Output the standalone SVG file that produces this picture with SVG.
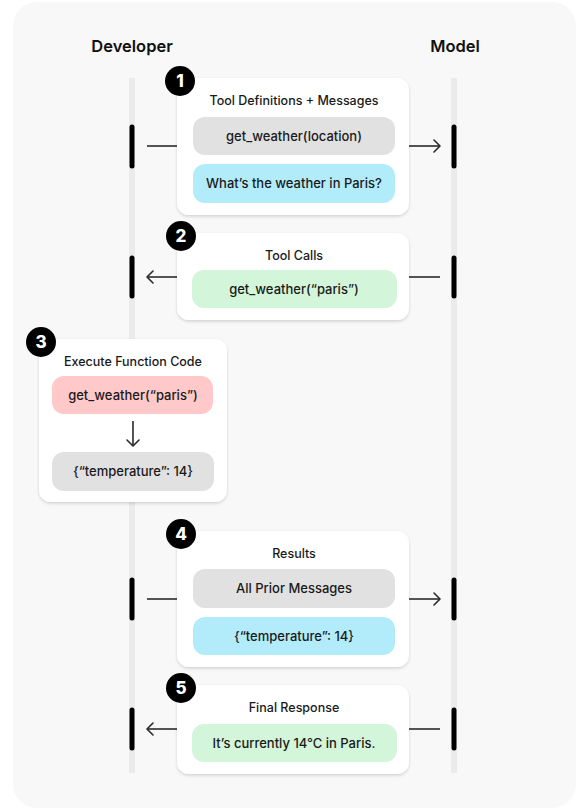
<svg xmlns="http://www.w3.org/2000/svg" width="584" height="810" viewBox="0 0 584 810">
  <defs>
    <filter id="sh" x="-10%" y="-10%" width="120%" height="130%">
      <feDropShadow dx="0" dy="1.5" stdDeviation="1.8" flood-color="#000" flood-opacity="0.16"/>
    </filter>
    <marker id="ah" markerWidth="12" markerHeight="14" refX="10" refY="7" orient="auto" markerUnits="userSpaceOnUse">
      <path d="M4,1 L10,7 L4,13" fill="none" stroke="#2a2a2a" stroke-width="1.6" stroke-linecap="round" stroke-linejoin="round"/>
    </marker>
    <style>
      .hdr { font-family: Inter, "Liberation Sans", sans-serif; font-size: 16.5px; font-weight: 600; fill: #111; text-anchor: middle; }
      .ttl { font-family: Inter, "Liberation Sans", sans-serif; font-size: 12.5px; font-weight: 500; fill: #1a1a1a; text-anchor: middle; }
      .pt { font-family: Inter, "Liberation Sans", sans-serif; font-size: 13px; font-weight: 500; fill: #1a1a1a; text-anchor: middle; }
      .card { fill: #ffffff; filter: url(#sh); }
      .gray { fill: #e1e1e1; }
      .blue { fill: #b2ecfb; }
      .green { fill: #d3f5d9; }
      .red { fill: #ffc9c9; }
      .life { fill: #ebebeb; }
      .bar { stroke: #000; stroke-width: 5; stroke-linecap: round; }
      .badge { fill: #000; }
      .bn { font-family: Inter, "Liberation Sans", sans-serif; font-size: 17px; font-weight: 800; fill: #fff; text-anchor: middle; }
      .conn { stroke: #2a2a2a; stroke-width: 1.6; fill: none; }
    </style>
  </defs>

  <rect x="0" y="0" width="584" height="810" fill="#ffffff"/>
  <rect x="13" y="2" width="563" height="806" rx="24" fill="#f8f8f8"/>

  <g id="lane-developer">
    <text class="hdr" x="132" y="52">Developer</text>
    <rect class="life" x="129" y="78" width="6" height="695"/>
  </g>
  <g id="lane-model">
    <text class="hdr" x="455" y="52">Model</text>
    <rect class="life" x="451" y="78" width="6" height="695"/>
  </g>

  <g id="activations">
    <line class="bar" x1="132" y1="127" x2="132" y2="166"/>
    <line class="bar" x1="454" y1="127" x2="454" y2="166"/>
    <line class="bar" x1="132" y1="258" x2="132" y2="296"/>
    <line class="bar" x1="454" y1="258" x2="454" y2="296"/>
    <line class="bar" x1="132" y1="580" x2="132" y2="618"/>
    <line class="bar" x1="454" y1="580" x2="454" y2="618"/>
    <line class="bar" x1="132" y1="710" x2="132" y2="748"/>
    <line class="bar" x1="454" y1="710" x2="454" y2="748"/>
  </g>

  <g id="step1">
    <rect class="card" x="177" y="78" width="232" height="137" rx="12"/>
    <text class="ttl" x="294" y="105">Tool Definitions + Messages</text>
    <rect class="gray" x="193" y="117" width="202" height="38" rx="12"/>
    <text class="pt" x="294" y="141">get_weather(location)</text>
    <rect class="blue" x="193" y="164" width="202" height="39" rx="12"/>
    <text class="pt" x="294" y="188">What’s the weather in Paris?</text>
    <circle class="badge" cx="180" cy="81" r="15"/>
    <text class="bn" x="180" y="87">1</text>
  </g>

  <g id="step2">
    <rect class="card" x="177" y="233" width="232" height="87" rx="12"/>
    <text class="ttl" x="294" y="260">Tool Calls</text>
    <rect class="green" x="192" y="270" width="205" height="38" rx="12"/>
    <text class="pt" x="294" y="294">get_weather(“paris”)</text>
    <circle class="badge" cx="181" cy="236" r="15"/>
    <text class="bn" x="181" y="242">2</text>
  </g>

  <g id="step3">
    <rect class="card" x="39" y="339" width="188" height="163" rx="12"/>
    <text class="ttl" x="133" y="366">Execute Function Code</text>
    <rect class="red" x="52" y="376" width="161" height="38" rx="12"/>
    <text class="pt" x="133" y="400">get_weather(“paris”)</text>
    <rect class="gray" x="52" y="452" width="162" height="39" rx="12"/>
    <text class="pt" x="133" y="476">{“temperature”: 14}</text>
    <circle class="badge" cx="41" cy="342" r="15"/>
    <text class="bn" x="41" y="348">3</text>
  </g>

  <g id="step4">
    <rect class="card" x="177" y="531" width="232" height="136" rx="12"/>
    <text class="ttl" x="294" y="558">Results</text>
    <rect class="gray" x="193" y="569" width="202" height="39" rx="12"/>
    <text class="pt" x="294" y="593">All Prior Messages</text>
    <rect class="blue" x="193" y="617" width="202" height="38" rx="12"/>
    <text class="pt" x="294" y="641">{“temperature”: 14}</text>
    <circle class="badge" cx="181" cy="534" r="15"/>
    <text class="bn" x="181" y="540">4</text>
  </g>

  <g id="step5">
    <rect class="card" x="177" y="685" width="232" height="89" rx="12"/>
    <text class="ttl" x="294" y="712">Final Response</text>
    <rect class="green" x="192" y="724" width="205" height="38" rx="12"/>
    <text class="pt" x="294" y="748">It’s currently 14°C in Paris.</text>
    <circle class="badge" cx="181" cy="688" r="15"/>
    <text class="bn" x="181" y="694">5</text>
  </g>

  <g id="connectors">
    <line class="conn" x1="147" y1="146" x2="177" y2="146"/>
    <line class="conn" x1="409" y1="146" x2="440" y2="146" marker-end="url(#ah)"/>
    <line class="conn" x1="177" y1="277" x2="147" y2="277" marker-end="url(#ah)"/>
    <line class="conn" x1="409" y1="277" x2="440" y2="277"/>
    <line class="conn" x1="133" y1="421" x2="133" y2="446" marker-end="url(#ah)"/>
    <line class="conn" x1="147" y1="599" x2="177" y2="599"/>
    <line class="conn" x1="409" y1="599" x2="440" y2="599" marker-end="url(#ah)"/>
    <line class="conn" x1="177" y1="729" x2="147" y2="729" marker-end="url(#ah)"/>
    <line class="conn" x1="409" y1="729" x2="440" y2="729"/>
  </g>
</svg>
